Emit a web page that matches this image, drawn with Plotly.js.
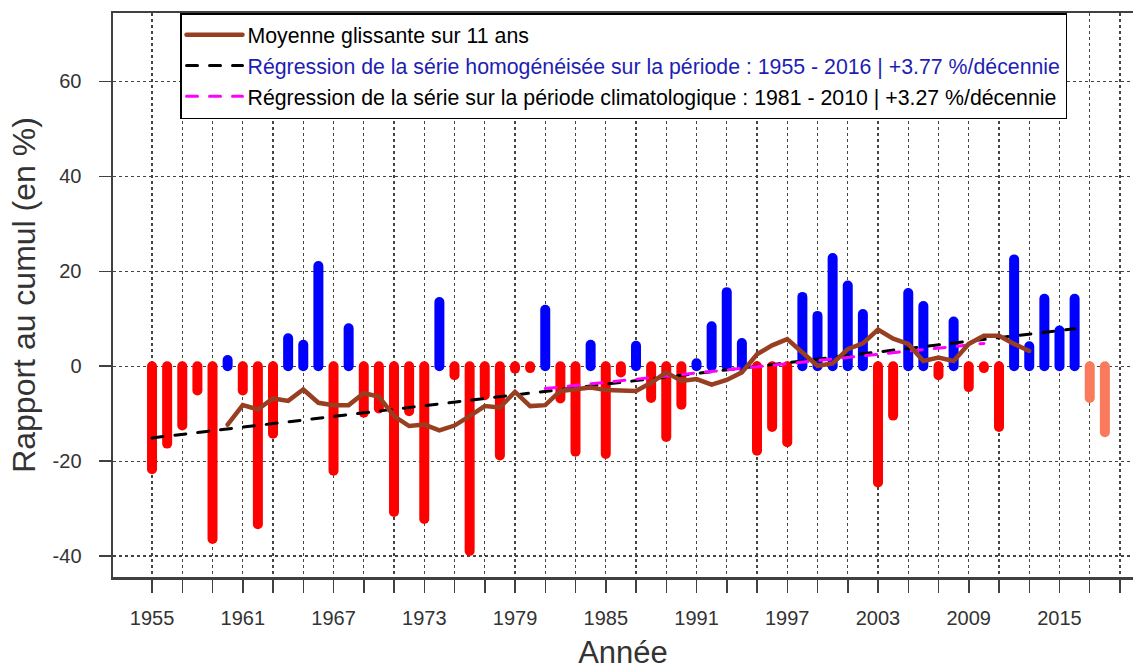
<!DOCTYPE html>
<html><head><meta charset="utf-8">
<script src="https://cdn.plot.ly/plotly-3.0.1.min.js"></script>
<style>
html,body{margin:0;padding:0;background:#fff;}
#chart{width:1133px;height:672px;}
.js-line{stroke-linecap:round !important;}
</style></head><body><div id="chart"></div>
<script>
const years = [1955,1956,1957,1958,1959,1960,1961,1962,1963,1964,1965,1966,1967,1968,1969,
  1970,1971,1972,1973,1974,1975,1976,1977,1978,1979,1980,1981,1982,1983,1984,1985,1986,1987,1988,1989,
  1990,1991,1992,1993,1994,1995,1996,1997,1998,1999,2000,2001,2002,2003,2004,2005,2006,2007,2008,2009,
  2010,2011,2012,2013,2014,2015,2016,2017,2018];
const values = [-21.7,-16.3,-12.5,-5.1,-36.4,1.3,-5.1,-33.3,-14.2,5.9,4.5,21.1,-22.0,8.0,-9.8,
  -8.9,-30.7,-9.5,-32.2,13.5,-1.9,-38.9,-6.1,-18.8,-0.5,-0.4,11.9,-6.8,-18.0,4.5,-18.5,-1.3,4.3,-6.7,-14.9,
  -8.1,0.6,8.4,15.6,4.9,-17.8,-12.8,-16.0,14.6,10.6,22.8,17.0,11.0,-24.5,-10.4,15.4,12.7,-1.9,9.4,-4.4,
  -0.4,-12.8,22.5,4.2,14.2,7.5,14.2,-6.7,-13.9];
const lastHomogeneousYear = 2016;

const maYears = [1960,1961,1962,1963,1964,1965,1966,1967,1968,1969,1970,1971,1972,1973,1974,1975,1976,1977,1978,1979,
  1980,1981,1982,1983,1984,1985,1986,1987,1988,1989,1990,1991,1992,1993,1994,1995,1996,1997,1998,1999,
  2000,2001,2002,2003,2004,2005,2006,2007,2008,2009,2010,2011,2012,2013];
const maValues = [-12.3,-8.2,-9.1,-6.8,-7.3,-4.9,-7.7,-8.2,-8.2,-5.7,-6.4,-10.5,-12.6,-12.3,-13.5,-12.5,-10.5,-8.4,-8.7,-5.4,
  -8.4,-8.2,-5.2,-4.9,-4.5,-5.0,-5.0,-5.2,-3.5,-1.3,-3.1,-2.7,-3.9,-2.9,-1.3,2.5,4.4,5.7,2.9,0.1,
  0.6,3.6,4.8,7.7,5.8,4.7,1.1,1.8,1.1,4.7,6.4,6.4,4.7,3.2];

const regYears = [1955, 2016];
const regValues = [-15.1, 7.9];
const climYears = [1981, 2010];
const climValues = [-4.7, 4.8];

const xTickVals = [1955,1957,1959,1961,1963,1965,1967,1969,1971,1973,1975,1977,1979,1981,1983,1985,1987,1989,
  1991,1993,1995,1997,1999,2001,2003,2005,2007,2009,2011,2013,2015,2017,2019];
const xTickText = ['1955','','','1961','','','1967','','','1973','','','1979','','','1985','','',
  '1991','','','1997','','','2003','','','2009','','','2015','',''];
const yTickVals = [-40,-20,0,20,40,60];
const yTickText = ['-40','-20','0','20','40','60'];

const legendNames = [
  'Moyenne glissante sur 11 ans',
  '<span style="color:#1e1eb4">Régression de la série homogénéisée sur la période : 1955 - 2016 | +3.77 %/décennie</span>',
  'Régression de la série sur la période climatologique : 1981 - 2010 | +3.27 %/décennie'
];

function stems(filter){
  const x = [], y = [];
  years.forEach((yr, i) => {
    const v = values[i];
    if (filter(yr, v)) { x.push(yr, yr, null); y.push(0, v, null); }
  });
  return {x, y};
}
const neg = stems((yr, v) => yr <= lastHomogeneousYear && v < 0);
const pos = stems((yr, v) => yr <= lastHomogeneousYear && v >= 0);
const recent = stems((yr, v) => yr > lastHomogeneousYear);

const FONT = 'Liberation Sans, Arial, sans-serif';
const stemWidth = 10;

const traces = [
  {x: neg.x, y: neg.y, mode: 'lines', line: {color: '#ff0000', width: stemWidth}, showlegend: false, hoverinfo: 'skip', connectgaps: false},
  {x: pos.x, y: pos.y, mode: 'lines', line: {color: '#0000ff', width: stemWidth}, showlegend: false, hoverinfo: 'skip', connectgaps: false},
  {x: recent.x, y: recent.y, mode: 'lines', line: {color: '#fa7a5e', width: stemWidth}, showlegend: false, hoverinfo: 'skip', connectgaps: false},
  {x: regYears, y: regValues, mode: 'lines', name: legendNames[1], legendrank: 2,
   line: {color: '#000000', width: 3, dash: '11px,12px'}},
  {x: climYears, y: climValues, mode: 'lines', name: legendNames[2], legendrank: 3,
   line: {color: '#ff00ff', width: 3, dash: '11px,12px'}},
  {x: maYears, y: maValues, mode: 'lines', name: legendNames[0], legendrank: 1,
   line: {color: '#983f22', width: 4.5}}
];

const layout = {
  width: 1133, height: 672,
  margin: {l: 113, r: 0, t: 13, b: 95},
  paper_bgcolor: '#ffffff', plot_bgcolor: '#ffffff',
  font: {family: FONT, color: '#333333', size: 20},
  showlegend: true,
  legend: {
    x: 0.0657, y: 1, xanchor: 'left', yanchor: 'top',
    bgcolor: '#ffffff', bordercolor: '#000000', borderwidth: 1.5,
    font: {family: FONT, size: 21.3, color: '#000000'},
    itemwidth: 56,
    traceorder: 'normal'
  },
  xaxis: {
    range: [1952.42, 2019.86], autorange: false,
    showline: true, mirror: true, linecolor: '#404040', linewidth: 2.5,
    ticks: 'outside', ticklen: 13, tickwidth: 1.5, tickcolor: '#404040',
    tickmode: 'array', tickvals: xTickVals, ticktext: xTickText,
    tickfont: {family: FONT, size: 20, color: '#333333'},
    ticklabelstandoff: 8,
    showgrid: true, gridcolor: '#444444', gridwidth: 1.3, griddash: 'dot',
    zeroline: false, automargin: false,
    title: {text: 'Année', font: {family: FONT, size: 31, color: '#333333'}, standoff: 14}
  },
  yaxis: {
    range: [-44.4, 74.4], autorange: false,
    showline: true, mirror: false, linecolor: '#404040', linewidth: 2.5,
    ticks: 'outside', ticklen: 12, tickwidth: 1.5, tickcolor: '#404040',
    tickmode: 'array', tickvals: yTickVals, ticktext: yTickText,
    tickfont: {family: FONT, size: 20, color: '#333333'},
    ticklabelstandoff: 13,
    showgrid: true, gridcolor: '#444444', gridwidth: 1.3, griddash: 'dot',
    zeroline: false, automargin: false,
    title: {text: 'Rapport au cumul (en %)', font: {family: FONT, size: 32, color: '#333333'}, standoff: 8}
  }
};

Plotly.newPlot('chart', traces, layout, {displayModeBar: false, staticPlot: true});
</script></body></html>
